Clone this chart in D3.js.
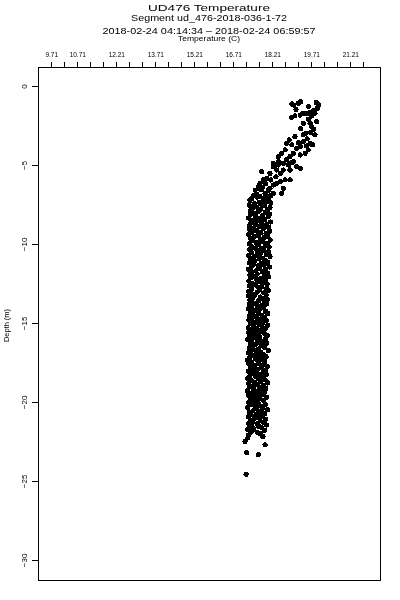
<!DOCTYPE html>
<html><head><meta charset="utf-8">
<script src="https://cdn.jsdelivr.net/npm/d3@7/dist/d3.min.js"></script>
<style>
html,body{margin:0;padding:0;background:#fff;}
svg{display:block;font-family:"Liberation Sans",Arial,sans-serif;filter:grayscale(1);}
</style></head>
<body>
<script>
// ---- data ----
const titleLines = ["UD476 Temperature", "Segment ud_476-2018-036-1-72", "2018-02-24 04:14:34 \u2013 2018-02-24 06:59:57"];
const xAxisTitle = "Temperature (C)";
const yAxisTitle = "Depth (m)";
const xTickLabels = [9.71, 10.71, 12.21, 13.71, 15.21, 16.71, 18.21, 19.71, 21.21];
const xMinorTicks = [9.71,10.21,10.71,11.21,11.71,12.21,12.71,13.21,13.71,14.21,14.71,15.21,15.71,16.21,16.71,17.21,17.71,18.21,18.71,19.21,19.71,20.21,20.71,21.21,21.71];
const yTicks = [0, -5, -10, -15, -20, -25, -30];

// [temperature, depth]
const upperSamples = [
[18.96,-1.14],[19.04,-1.22],[19.21,-1.09],[19.30,-0.99],[19.98,-1.20],[19.94,-1.41],[19.79,-1.56],[19.66,-1.69],
[19.53,-1.77],[19.40,-1.73],[19.28,-1.84],[19.08,-1.90],[18.96,-1.98],[19.73,-1.90],[19.85,-1.73],[19.92,-2.26],
[19.66,-2.36],[19.40,-2.36],[19.73,-2.58],[19.51,-2.99],[19.69,-2.96],[19.85,-3.10],[19.40,-3.10],[19.08,-3.21],
[18.86,-3.42],[18.76,-3.63],[18.96,-3.73],[19.21,-3.59],[19.40,-3.53],[19.28,-3.84],[19.53,-3.80],[19.66,-3.63],
[19.76,-3.73],[19.59,-4.05],[19.47,-4.26],[19.28,-4.37],[19.02,-4.26],[18.89,-4.47],[18.76,-4.68],[18.57,-4.26],
[18.44,-4.47],[18.25,-4.89],[18.44,-5.00],[18.63,-4.89],[18.83,-5.00],[19.02,-4.79],[19.15,-5.11],[19.28,-5.21],
[18.89,-5.32],[18.63,-5.32],[18.51,-5.53],[18.38,-5.32],[18.25,-5.11],[18.12,-5.53],[18.00,-5.84],[17.80,-5.42],
[17.86,-5.95],[17.74,-6.16],[17.67,-6.47],[17.80,-6.58],[17.93,-6.79],[18.12,-6.47],[18.25,-6.27],[18.38,-6.16],
[18.51,-6.06],[18.70,-5.95],[18.89,-5.95],[18.63,-6.47],[18.57,-6.79],[18.25,-6.79],[18.00,-7.01],[17.74,-7.01],
[17.61,-7.01],
[17.55,-6.60],[17.62,-6.85],[17.50,-6.95],[17.70,-6.30],[17.85,-6.40],[18.05,-6.60],[17.95,-6.90],[18.15,-6.95],
[19.12,-1.48],[19.60,-2.10],[19.80,-2.75],[19.30,-2.70],[19.55,-3.35],[19.15,-3.95],[18.70,-4.05],[18.95,-4.85],
[18.35,-5.75],[18.15,-5.95],[17.95,-6.20],[18.45,-4.80],[19.60,-1.30],[19.90,-1.05]
];

const columnSamples = [
[17.62,-7.04],[18.08,-7.10],[17.41,-7.14],[17.87,-7.21],[17.35,-7.24],[17.98,-7.31],[17.70,-7.35],[18.15,-7.40],[17.52,-7.46],[17.80,-7.49],
[17.33,-7.56],[17.91,-7.59],[17.60,-7.66],[18.12,-7.70],[17.45,-7.74],[17.76,-7.81],[18.02,-7.85],[17.38,-7.90],[17.67,-7.96],[17.95,-7.99],
[17.50,-8.05],[18.10,-8.11],[17.36,-8.14],[17.84,-8.20],[17.58,-8.26],[18.05,-8.29],[17.30,-8.36],[17.73,-8.40],[17.92,-8.45],[17.44,-8.51],
[17.65,-8.54],[18.14,-8.61],[17.39,-8.65],[17.81,-8.70],[17.55,-8.76],[17.99,-8.79],[17.33,-8.85],[17.71,-8.91],[18.07,-8.94],[17.48,-9.00],
[17.86,-9.04],[17.34,-9.10],[17.62,-9.15],[18.11,-9.19],[17.43,-9.26],[17.77,-9.30],[17.97,-9.34],[17.31,-9.41],[17.68,-9.45],[18.03,-9.50],
[17.52,-9.55],[17.90,-9.59],[17.37,-9.66],[17.74,-9.69],[18.13,-9.75],[17.46,-9.80],[17.83,-9.84],[17.59,-9.91],[18.01,-9.95],[17.32,-10.00],
[17.69,-10.04],[17.94,-10.11],[17.40,-10.15],[18.09,-10.19],[17.56,-10.26],[17.79,-10.30],[17.35,-10.35],[17.88,-10.41],[17.64,-10.44],[18.06,-10.50],
[17.42,-10.56],[17.75,-10.59],[17.98,-10.65],[17.30,-10.71],[17.61,-10.74],[18.12,-10.80],[17.49,-10.86],[17.85,-10.90],[17.71,-10.94],[17.36,-11.01],
[17.93,-11.04],[17.54,-11.09],[18.04,-11.16],[17.33,-11.20],[17.78,-11.24],[17.47,-11.31],[17.89,-11.35],[17.66,-11.39],[18.10,-11.46],[17.39,-11.50],
[17.72,-11.55],[17.29,-11.61],[17.96,-11.64],[17.58,-11.70],[17.82,-11.75],[17.41,-11.79],[18.03,-11.86],[17.63,-11.90],[17.35,-11.94],[17.90,-12.01],
[17.51,-12.05],[18.08,-12.09],[17.37,-12.15],[17.76,-12.21],[17.60,-12.24],[17.95,-12.30],[17.31,-12.36],[17.68,-12.39],[17.86,-12.45],[17.45,-12.51],
[18.01,-12.54],[17.57,-12.60],[17.34,-12.66],[17.81,-12.70],[17.66,-12.74],[17.99,-12.81],[17.42,-12.85],[17.73,-12.89],[18.06,-12.96],[17.30,-13.00],
[17.62,-13.05],[17.88,-13.10],[17.38,-13.14],[17.54,-13.21],[17.97,-13.25],[17.28,-13.29],[17.74,-13.36],[17.47,-13.40],[17.84,-13.45],[18.02,-13.51],
[17.35,-13.54],[17.69,-13.60],[17.92,-13.65],[17.44,-13.69],[17.58,-13.76],[18.00,-13.80],[17.32,-13.84],[17.79,-13.91],[17.63,-13.95],[17.41,-13.99],
[17.87,-14.05],[17.29,-14.10],[17.72,-14.14],[17.53,-14.20],[17.96,-14.26],[17.39,-14.30],[17.67,-14.35],[18.04,-14.40],[17.46,-14.44],[17.81,-14.51],
[17.33,-14.55],[17.59,-14.59],[17.90,-14.66],[17.43,-14.70],[17.75,-14.75],[17.31,-14.81],[17.98,-14.84],[17.64,-14.90],[17.50,-14.95],[17.85,-15.00],
[17.37,-15.04],[17.70,-15.10],[18.03,-15.15],[17.48,-15.19],[17.82,-15.25],[17.28,-15.31],[17.61,-15.34],[17.93,-15.40],[17.40,-15.46],[17.77,-15.49],
[17.56,-15.55],[17.30,-15.60],[17.89,-15.64],[17.66,-15.71],[17.44,-15.75],[18.01,-15.79],[17.34,-15.86],[17.73,-15.90],[17.52,-15.94],[17.95,-16.01],
[17.27,-16.05],[17.63,-16.09],[17.84,-16.16],[17.41,-16.20],[17.71,-16.24],[17.99,-16.30],[17.36,-16.36],[17.55,-16.39],[17.79,-16.45],[17.47,-16.51],
[17.91,-16.54],[17.32,-16.60],[17.68,-16.65],[17.50,-16.70],[18.05,-16.76],[17.39,-16.79],[17.76,-16.85],[17.29,-16.90],[17.60,-16.94],[17.87,-17.01],
[17.45,-17.05],[17.74,-17.10],[17.97,-17.14],[17.33,-17.21],[17.58,-17.25],[17.83,-17.29],[17.26,-17.35],[17.66,-17.41],[17.92,-17.44],[17.42,-17.50],
[17.69,-17.55],[17.31,-17.61],[17.88,-17.64],[17.54,-17.70],[18.02,-17.76],[17.37,-17.80],[17.78,-17.84],[17.48,-17.91],[17.64,-17.95],[17.95,-17.99],
[17.28,-18.05],[17.61,-18.10],[17.85,-18.14],[17.43,-18.21],[17.72,-18.25],[17.98,-18.29],[17.35,-18.36],[17.57,-18.40],[17.81,-18.45],[17.27,-18.51],
[17.67,-18.54],[17.93,-18.60],[17.40,-18.65],[17.75,-18.69],[17.52,-18.76],[18.04,-18.80],[17.30,-18.84],[17.62,-18.91],[17.86,-18.95],[17.46,-19.00],
[17.34,-19.04],[17.71,-19.10],[17.96,-19.15],[17.49,-19.19],[17.80,-19.26],[17.26,-19.30],[17.59,-19.34],[17.90,-19.41],[17.41,-19.45],[17.66,-19.50],
[17.83,-19.55],[17.29,-19.59],[17.55,-19.66],[18.00,-19.70],[17.44,-19.74],[17.73,-19.81],[17.36,-19.85],[17.87,-19.89],[17.63,-19.96],[17.51,-20.00],
[17.31,-20.04],[17.68,-20.11],[17.94,-20.15],[17.42,-20.19],[17.77,-20.26],[17.55,-20.30],[17.27,-20.35],[17.84,-20.41],[17.60,-20.44],[18.03,-20.50],
[17.47,-20.56],[17.79,-20.59],[17.33,-20.65],[17.65,-20.71],[17.91,-20.74],[17.39,-20.80],[17.57,-20.86],[17.82,-20.90],[17.28,-20.94],[17.70,-21.01],
[17.53,-21.04],[17.95,-21.09],[17.37,-21.16],[17.74,-21.20],[17.45,-21.24],[17.88,-21.31],[17.30,-21.35],[17.62,-21.39],[17.99,-21.46],[17.41,-21.50],
[17.68,-21.55],[17.34,-21.61],[17.80,-21.64],[17.50,-21.70],[17.27,-21.76],[17.92,-21.79],[17.43,-21.85],[17.63,-21.91],[17.36,-21.94],[17.75,-22.00]
];

const bottomSamples = [
[17.16,-22.51],[17.27,-22.28],[17.93,-22.72],[17.23,-23.21],[17.67,-23.35],[17.20,-24.58],[17.30,-22.10],[17.85,-22.20]
];

// ---- layout ----
const W = 400, H = 600;
const plot = {left: 38, right: 380, top: 67, bottom: 580};

const svg = d3.select("body").append("svg").attr("width", W).attr("height", H)
  .attr("shape-rendering", "crispEdges");

const x = d3.scaleLinear().domain([9.2, 22.35]).range([plot.left, plot.right]);
const y = d3.scaleLinear().domain([1.2, -31.27]).range([plot.top, plot.bottom]);

// titles
const titleBaselines = [10.5, 21, 34];
const titleWidths = [122, 156, 213];
titleLines.forEach((t, i) => {
  svg.append("text").attr("x", (plot.left + plot.right) / 2).attr("y", titleBaselines[i])
    .attr("text-anchor", "middle").attr("font-size", 9)
    .attr("textLength", titleWidths[i]).attr("lengthAdjust", "spacingAndGlyphs")
    .text(t);
});
svg.append("text").attr("x", (plot.left + plot.right) / 2).attr("y", 41)
  .attr("text-anchor", "middle").attr("font-size", 6.5)
  .attr("textLength", 62).attr("lengthAdjust", "spacingAndGlyphs")
  .text(xAxisTitle);

// y axis title
svg.append("text").attr("transform", `translate(8.5,${(plot.top + plot.bottom) / 2 + 2}) rotate(-90)`)
  .attr("text-anchor", "middle").attr("font-size", 7)
  .attr("textLength", 33).attr("lengthAdjust", "spacingAndGlyphs")
  .text(yAxisTitle);

// top axis
const labelSet = new Set(xTickLabels.map(v => v.toFixed(2)));
const xAxis = d3.axisTop(x).tickValues(xMinorTicks).tickSize(5).tickPadding(5)
  .tickFormat(v => labelSet.has(v.toFixed(2)) ? v.toFixed(2) : "");
const gx = svg.append("g").attr("transform", `translate(0,${plot.top})`).call(xAxis);
gx.select(".domain").remove();
gx.selectAll("text").attr("font-size", 6.5).attr("fill", "#000")
  .attr("font-family", "Liberation Sans, Arial, sans-serif");
gx.selectAll("line").attr("stroke", "#000");

// left axis
const yAxis = d3.axisLeft(y).tickValues(yTicks).tickSize(6).tickFormat(d3.format("d"));
const gy = svg.append("g").attr("transform", `translate(${plot.left},0)`).call(yAxis);
gy.select(".domain").remove();
gy.selectAll("line").attr("stroke", "#000");
gy.selectAll("text").attr("x", null).attr("dy", null)
  .attr("transform", "translate(-11,0) rotate(-90)")
  .attr("text-anchor", "middle").attr("font-size", 8).attr("fill", "#000")
  .attr("font-family", "Liberation Sans, Arial, sans-serif");

// frame
svg.append("rect").attr("x", plot.left + 0.5).attr("y", plot.top + 0.5)
  .attr("width", plot.right - plot.left).attr("height", plot.bottom - plot.top)
  .attr("fill", "none").attr("stroke", "#000").attr("stroke-width", 1);

// points
const allSamples = upperSamples.concat(columnSamples, bottomSamples);
svg.append("g").selectAll("circle").data(allSamples).join("circle")
  .attr("cx", d => x(d[0])).attr("cy", d => y(d[1])).attr("r", 2.6)
  .attr("fill", "#000");
</script>
</body></html>
